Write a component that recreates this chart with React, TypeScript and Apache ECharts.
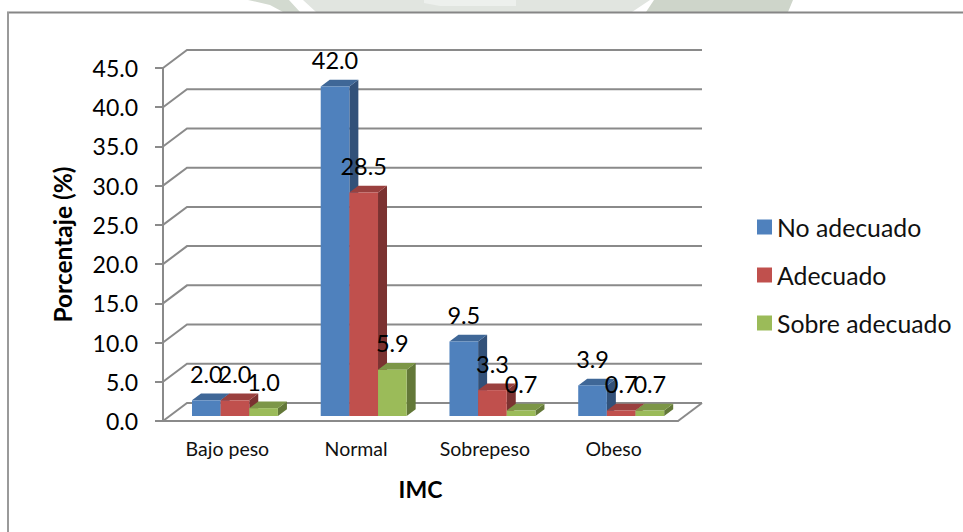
import React, { useEffect, useRef } from "react";
import * as echarts from "echarts";

const categories = ["Bajo peso", "Normal", "Sobrepeso", "Obeso"];
const noAdecuado = [2.0, 42.0, 9.5, 3.9];
const adecuado = [2.0, 28.5, 3.3, 0.7];
const sobreAdecuado = [1.0, 5.9, 0.7, 0.7];
const yTicks = [0, 5, 10, 15, 20, 25, 30, 35, 40, 45];

const FONT = "Lato";
const WALL_DX = 24;
const WALL_DY = 18;
const BAR_DX = 9;
const BAR_DY = 6.7;
const BAR_LIFT = 5;
const AXIS_GREY = "#8a8a8a";

type Shade = { name: string; values: number[]; front: string; top: string; side: string };

const shades: Shade[] = [
  { name: "No adecuado", values: noAdecuado, front: "#4f81bd", top: "#3f6797", side: "#325179" },
  { name: "Adecuado", values: adecuado, front: "#c0504d", top: "#9a403e", side: "#7b3231" },
  { name: "Sobre adecuado", values: sobreAdecuado, front: "#9bbb59", top: "#7c9647", side: "#637838" },
];

// Extruded column: front face, top and right side, with the value written above it.
const barRenderer = (shade: Shade, seriesIndex: number) => (_params: any, api: any) => {
  const band = api.size([1, 0])[0];
  const idx = api.value(0);
  const val = api.value(1);
  const barW = band * 0.2225;
  const center = api.coord([idx, 0])[0];
  const x0 = center - band / 2 + band * 0.225 + barW * seriesIndex;
  const x1 = x0 + barW;
  const yBase = api.coord([idx, 0])[1] - BAR_LIFT;
  const yTop = api.coord([idx, val])[1] - BAR_LIFT;
  return {
    type: "group",
    children: [
      {
        type: "polygon",
        z2: 1,
        shape: { points: [[x1, yBase], [x1 + BAR_DX, yBase - BAR_DY], [x1 + BAR_DX, yTop - BAR_DY], [x1, yTop]] },
        style: { fill: shade.side },
      },
      {
        type: "polygon",
        z2: 1,
        shape: { points: [[x0, yTop], [x0 + BAR_DX, yTop - BAR_DY], [x1 + BAR_DX, yTop - BAR_DY], [x1, yTop]] },
        style: { fill: shade.top },
      },
      {
        type: "rect",
        z2: 2,
        shape: { x: x0, y: yTop, width: barW, height: yBase - yTop },
        style: { fill: shade.front },
      },
      {
        type: "text",
        z2: 50,
        style: {
          text: val.toFixed(1),
          x: (x0 + x1) / 2,
          y: yTop - 14.5,
          align: "center",
          verticalAlign: "bottom",
          fill: "#000",
          font: `23.5px ${FONT}`,
        },
      },
    ],
  };
};

// Back wall rulings: each tick runs up the left side wall, then along the back.
const wallRenderer = (_params: any, api: any) => {
  const band = api.size([1, 0])[0];
  const left = api.coord([0, 0])[0] - band / 2;
  const right = left + band * categories.length;
  const val = api.value(1);
  const y = api.coord([0, val])[1];
  const lineStyle = { stroke: AXIS_GREY, lineWidth: 2, fill: "none" };
  const children: any[] = [
    {
      type: "polyline",
      shape: { points: [[left, y], [left + WALL_DX, y - WALL_DY], [right + WALL_DX, y - WALL_DY]] },
      style: lineStyle,
    },
  ];
  if (val === 0) {
    children.push({
      type: "line",
      shape: { x1: right, y1: y, x2: right + WALL_DX, y2: y - WALL_DY },
      style: lineStyle,
    });
  }
  return { type: "group", children };
};

export default function App() {
  const ref = useRef<HTMLDivElement>(null);

  useEffect(() => {
    const chart = echarts.init(ref.current!, null, { renderer: "svg" });
    chart.setOption({
      animation: false,
      backgroundColor: "#ffffff",
      textStyle: { fontFamily: FONT },
      grid: { left: 163, top: 68, width: 515, height: 353 },
      xAxis: {
        type: "category",
        data: categories,
        axisLine: { lineStyle: { color: AXIS_GREY, width: 2 } },
        axisTick: { alignWithLabel: false, length: 6, lineStyle: { color: AXIS_GREY, width: 2 } },
        axisLabel: { color: "#111", fontSize: 19.5, fontFamily: FONT, margin: 17 },
        name: "IMC",
        nameLocation: "middle",
        nameGap: 56,
        nameTextStyle: { color: "#000", fontSize: 23, fontWeight: "bold", fontFamily: FONT },
      },
      yAxis: {
        type: "value",
        min: 0,
        max: 45,
        interval: 5,
        splitLine: { show: false },
        axisLine: { show: true, lineStyle: { color: AXIS_GREY, width: 2 } },
        axisTick: { show: true, length: 8, lineStyle: { color: AXIS_GREY, width: 2 } },
        axisLabel: {
          color: "#000",
          fontSize: 23,
          fontFamily: FONT,
          margin: 25,
          padding: [6, 0, 0, 0],
          formatter: (v: number) => v.toFixed(1),
        },
        name: "Porcentaje (%)",
        nameLocation: "middle",
        nameGap: 88,
        nameTextStyle: { color: "#000", fontSize: 24.5, fontWeight: "bold", fontFamily: FONT },
      },
      legend: {
        orient: "vertical",
        left: 752,
        top: 208,
        itemWidth: 15,
        itemHeight: 15,
        itemGap: 20,
        icon: "rect",
        data: shades.map((s) => s.name),
        textStyle: { color: "#111", fontSize: 24.8, fontFamily: FONT, lineHeight: 28 },
      },
      graphic: [
        // Faint emblem showing above the chart frame
        { type: "polygon", silent: true, z: -1, shape: { points: [[248, 0], [289, 0], [300, 12], [283, 12], [270, 5]] }, style: { fill: "#d3dad0" } },
        { type: "polygon", silent: true, z: -1, shape: { points: [[303, 0], [650, 0], [632, 12], [316, 12]] }, style: { fill: "#e1e5e0" } },
        { type: "polygon", silent: true, z: -1, shape: { points: [[424, 0], [516, 0], [516, 6], [440, 6], [424, 3]] }, style: { fill: "#edf0ed" } },
        { type: "polygon", silent: true, z: -1, shape: { points: [[654, 0], [793, 0], [788, 12], [646, 12]] }, style: { fill: "#ced5ca" } },
        // Chart frame: top and left edges
        { type: "line", silent: true, shape: { x1: 7, y1: 12.5, x2: 963, y2: 12.5 }, style: { stroke: "#868686", lineWidth: 2 } },
        { type: "line", silent: true, shape: { x1: 8, y1: 12, x2: 8, y2: 532 }, style: { stroke: "#9a9a9a", lineWidth: 2 } },
      ],
      series: [
        {
          type: "custom",
          name: "wall",
          z: 1,
          silent: true,
          clip: false,
          renderItem: wallRenderer,
          data: yTicks.map((v) => [0, v]),
          encode: { x: 0, y: 1 },
        },
        ...shades.map((s, i) => ({
          type: "custom",
          name: s.name,
          z: 5,
          clip: false,
          itemStyle: { color: s.front },
          renderItem: barRenderer(s, i),
          data: s.values.map((v, k) => [k, v]),
          encode: { x: 0, y: 1 },
        })),
      ],
    });
    return () => chart.dispose();
  }, []);

  return <div ref={ref} style={{ position: "absolute", left: 0, top: 0, width: 963, height: 532 }} />;
}
